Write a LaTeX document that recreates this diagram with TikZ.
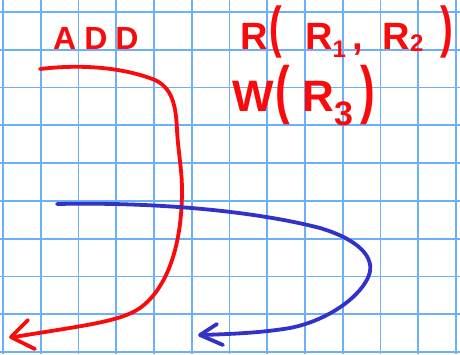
\documentclass[tikz,border=0pt]{standalone}
\usepackage{fontspec}
\setmainfont{Liberation Sans}
\usepackage{graphicx}
\definecolor{gridblue}{RGB}{110,175,250}
\definecolor{inkred}{RGB}{250,10,10}
\definecolor{inkblue}{RGB}{50,50,200}
\begin{document}
\begin{tikzpicture}[x=1pt,y=-1pt,
  gridline/.style={gridblue,line width=1.8pt},
  redink/.style={inkred,line width=3.8pt,line cap=round,line join=round},
  blueink/.style={inkblue,line width=3.8pt,line cap=round,line join=round},
  hand/.style={inkred,inner sep=0pt,anchor=base west}]
\fill[white] (0,0) rectangle (460,354);
\useasboundingbox (0,0) rectangle (460,354);
\foreach \i in {0,...,12} \draw[gridline] ({3+37.75*\i},0) -- ({3+37.75*\i},354);
\foreach \j in {0,...,9} \draw[gridline] (0,{12+37.78*\j}) -- (460,{12+37.78*\j});
% red curve
\coordinate (rs) at (40,69);
\coordinate (re) at (14,337);
\draw[redink] (rs) .. controls (90,63) and (130,70) .. (155,80)
  .. controls (172,88) and (176,105) .. (177,130)
  .. controls (178,150) and (182,170) .. (182,190)
  .. controls (182,250) and (165,290) .. (140,308)
  .. controls (120,322) and (80,326) .. (re);
\draw[redink] (28,320) -- (11,337) -- (35,349);
% blue curve
\coordinate (bs) at (57,204);
\coordinate (be) at (202,335);
\draw[blueink] (bs) .. controls (150,202) and (250,210) .. (320,228)
  .. controls (360,240) and (375,258) .. (369,275)
  .. controls (362,295) and (330,320) .. (290,328)
  .. controls (260,333) and (230,334) .. (be);
\draw[blueink] (217,324) -- (200,335) -- (223,345);
% texts
\node[hand,font=\fontsize{32}{32}\selectfont\bfseries] (add) at (53,49) {A\kern8pt D\kern8pt D};
\node[hand,font=\fontsize{38}{38}\selectfont\bfseries] (rline) at (240,49) {R\kern2pt\raisebox{3pt}{\scalebox{1}[1.48]{(}}\kern23pt R\raisebox{-8pt}{\fontsize{24}{24}\selectfont 1}\kern6pt,\kern20pt R\raisebox{-2pt}{\fontsize{24}{24}\selectfont 2}\kern17pt\raisebox{3pt}{\scalebox{1}[1.48]{)}}};
\node[hand,font=\fontsize{44}{44}\selectfont\bfseries] (wline) at (232,111) {W\kern2pt\scalebox{1}[1.45]{(}\kern12pt R\kern0pt\raisebox{-14pt}{\fontsize{34}{34}\selectfont 3}\kern7pt\scalebox{1}[1.45]{)}};
\end{tikzpicture}
\end{document}
